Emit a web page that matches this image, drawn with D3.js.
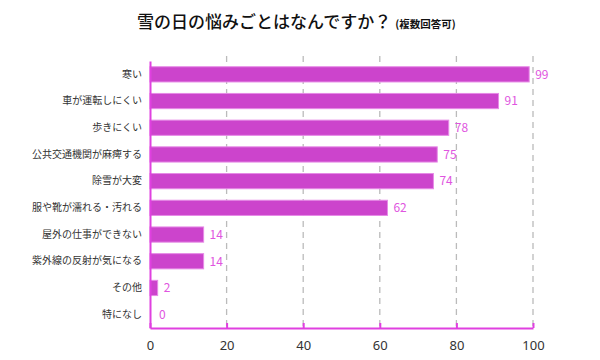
<!DOCTYPE html>
<html><head><meta charset="utf-8">
<script src="https://cdn.jsdelivr.net/npm/d3@7"></script>
<style>body{margin:0;background:#fff}svg{display:block}text{font-family:"Noto Sans CJK JP","Noto Sans",sans-serif}</style>
</head><body><svg id="c" width="600" height="360"></svg>
<script>
const categories = ["寒い","車が運転しにくい","歩きにくい","公共交通機関が麻痺する","除雪が大変","服や靴が濡れる・汚れる","屋外の仕事ができない","紫外線の反射が気になる","その他","特になし"];
const values = [99,91,78,75,74,62,14,14,2,0];
const xTicks = [0,20,40,60,80,100];

const svg = d3.select("#c");
const m = {l:150, r:67, t:61, b:32};
const W = 600, H = 360;
const x = d3.scaleLinear().domain([0,100]).range([m.l, W-m.r]);
const y = d3.scaleBand().domain(categories).range([m.t, H-m.b]).paddingInner(0.43).paddingOuter(0.215);
const axisY = H - m.b;

// title
const t = svg.append("text").attr("x",137).attr("y",28).attr("fill","#111");
t.append("tspan").attr("font-size",17).attr("font-weight",500).text("雪の日の悩みごとはなんですか？");
t.append("tspan").attr("font-size",10.5).attr("font-weight",700).attr("dx",4).text("(複数回答可)");

// grid
svg.append("g").selectAll("line").data(xTicks.slice(1)).join("line")
  .attr("x1",d=>x(d)).attr("x2",d=>x(d)).attr("y1",56).attr("y2",axisY)
  .attr("stroke","#bbb").attr("stroke-width",1.3).attr("stroke-dasharray","6,5");

// bars
svg.append("g").selectAll("rect").data(values).join("rect")
  .attr("x",x(0)).attr("y",(d,i)=>y(categories[i]))
  .attr("width",d=>x(d)-x(0)).attr("height",y.bandwidth())
  .attr("fill","#cc44cc").attr("stroke","#e68ae6").attr("stroke-width",1);

// value labels
svg.append("g").selectAll("text").data(values).join("text")
  .attr("x",d=>x(d)+ (d===0?9:6)).attr("y",(d,i)=>y(categories[i])+y.bandwidth()/2)
  .attr("dy","0.36em").attr("font-size",12).attr("fill","#e055e0").text(d=>d);

// y axis
const ya = svg.append("g").attr("transform",`translate(${x(0)},0)`)
  .call(d3.axisLeft(y).tickSize(0).tickPadding(8));
ya.select(".domain").attr("stroke","#e040e0").attr("stroke-width",2);
ya.selectAll("text").attr("font-size",10).attr("fill","#333").style("font-family",'"Noto Sans CJK JP",sans-serif');

// x axis
const xa = svg.append("g").attr("transform",`translate(0,${axisY})`)
  .call(d3.axisTop(x).tickValues(xTicks).tickSize(5).tickSizeOuter(0).tickFormat(d3.format("d")));
xa.select(".domain").attr("stroke","#e040e0").attr("stroke-width",2);
xa.selectAll(".tick line").attr("stroke","#e040e0").attr("stroke-width",2);
xa.selectAll("text").attr("y",17).attr("dy","0.35em").attr("font-size",13).attr("fill","#333").style("font-family",'"Noto Sans",sans-serif');
</script></body></html>
